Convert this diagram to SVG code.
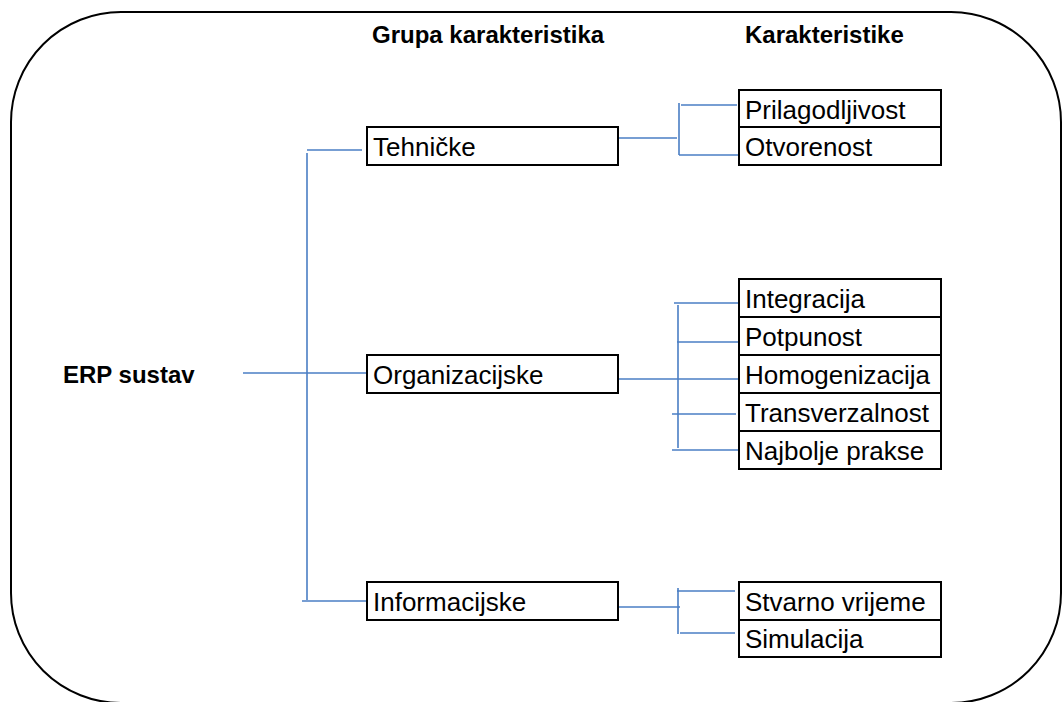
<svg xmlns="http://www.w3.org/2000/svg" width="1062" height="702" viewBox="0 0 1062 702">
<style>
.frame{fill:none;stroke:#000;stroke-width:2}
.box{fill:#fff;stroke:#000;stroke-width:2}
.t{font-family:"Liberation Sans",Arial,sans-serif;font-size:26px;fill:#000}
.h{font-family:"Liberation Sans",Arial,sans-serif;font-size:24px;font-weight:bold;fill:#000}
.c{stroke:#4A7EC4;stroke-width:1.6;fill:none}
</style>
<rect class="frame" x="11" y="12" width="1050" height="691" rx="110" ry="110"/>
<g id="headers">
<text class="h" x="372" y="43">Grupa karakteristika</text>
<text class="h" x="745" y="43">Karakteristike</text>
</g>
<g id="erp"><text class="h" x="63" y="383" font-size="23">ERP sustav</text></g>
<g id="connectors">
<path class="c" d="M243 373H367"/>
<path class="c" d="M307 153V600"/>
<path class="c" d="M307 150H362"/>
<path class="c" d="M302 601H367"/>
<path class="c" d="M618 138H677"/>
<path class="c" d="M679 103V155"/>
<path class="c" d="M681 105H737"/>
<path class="c" d="M679 155H738"/>
<path class="c" d="M618 379H738"/>
<path class="c" d="M678 305V448"/>
<path class="c" d="M674 303H738"/>
<path class="c" d="M677 342H738"/>
<path class="c" d="M672 414H736"/>
<path class="c" d="M672 450H738"/>
<path class="c" d="M618 607H680"/>
<path class="c" d="M678 588V634"/>
<path class="c" d="M677 591H735"/>
<path class="c" d="M680 633H735"/>
</g>
<g id="tehnicke"><rect class="box" x="367" y="127" width="251" height="38"/><text class="t" x="373" y="156">Tehničke</text></g>
<g id="organizacijske"><rect class="box" x="367" y="355" width="251" height="38"/><text class="t" x="373" y="384">Organizacijske</text></g>
<g id="informacijske"><rect class="box" x="367" y="582" width="251" height="38"/><text class="t" x="373" y="611">Informacijske</text></g>
<g id="prilagodljivost"><rect class="box" x="739" y="90" width="202" height="37"/><text class="t" x="745" y="119">Prilagodljivost</text></g>
<g id="otvorenost"><rect class="box" x="739" y="127" width="202" height="38"/><text class="t" x="745" y="156">Otvorenost</text></g>
<g id="integracija"><rect class="box" x="739" y="279" width="202" height="38"/><text class="t" x="745" y="308">Integracija</text></g>
<g id="potpunost"><rect class="box" x="739" y="317" width="202" height="38"/><text class="t" x="745" y="346">Potpunost</text></g>
<g id="homogenizacija"><rect class="box" x="739" y="355" width="202" height="38"/><text class="t" x="745" y="384">Homogenizacija</text></g>
<g id="transverzalnost"><rect class="box" x="739" y="393" width="202" height="38"/><text class="t" x="745" y="422">Transverzalnost</text></g>
<g id="najbolje"><rect class="box" x="739" y="431" width="202" height="38"/><text class="t" x="745" y="460">Najbolje prakse</text></g>
<g id="stvarno"><rect class="box" x="739" y="582" width="202" height="38"/><text class="t" x="745" y="611">Stvarno vrijeme</text></g>
<g id="simulacija"><rect class="box" x="739" y="620" width="202" height="37"/><text class="t" x="745" y="648">Simulacija</text></g>
</svg>
